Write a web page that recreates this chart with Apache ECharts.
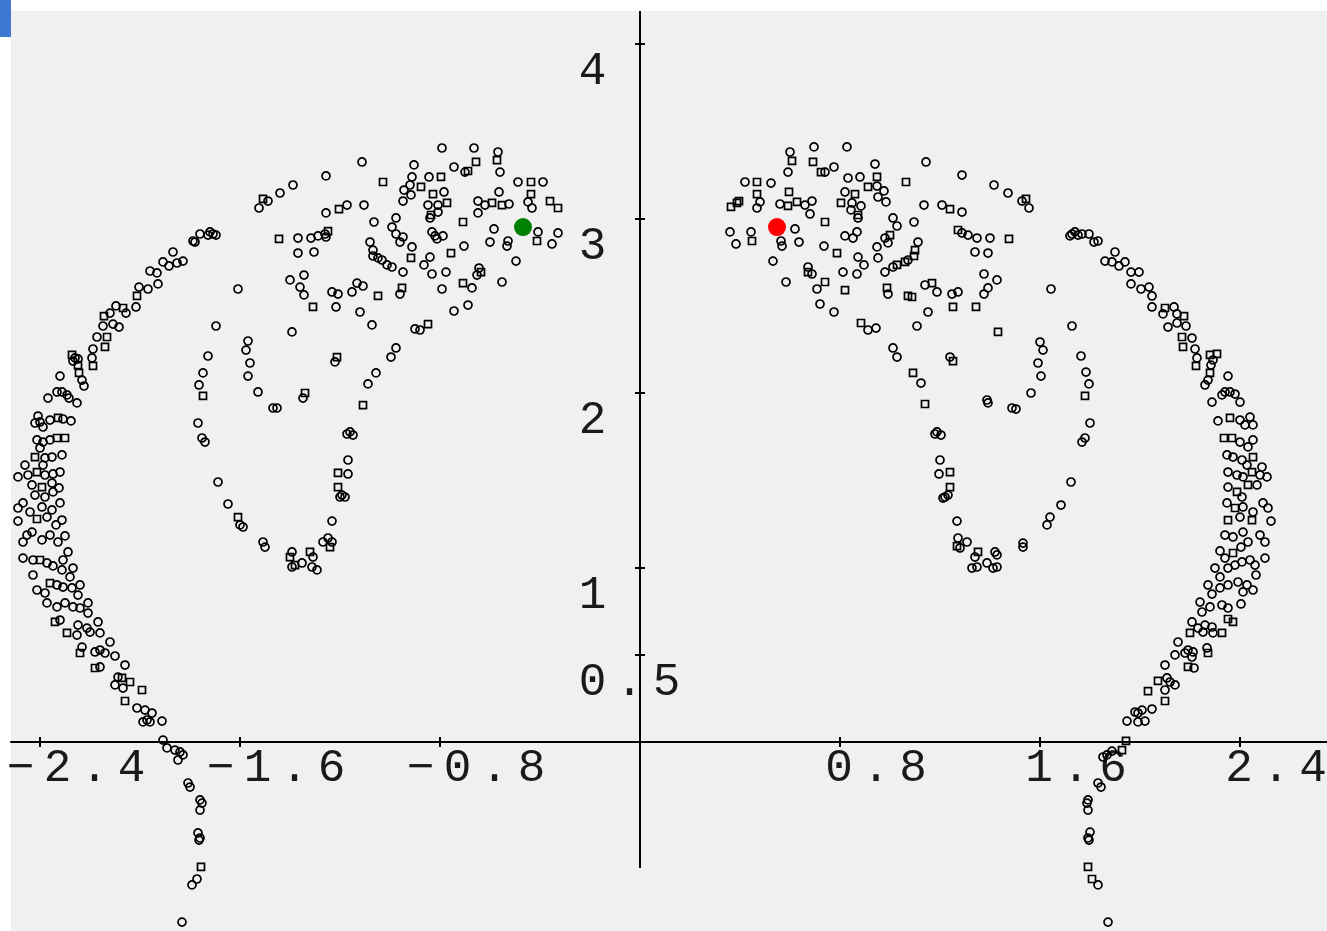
<!DOCTYPE html>
<html><head><meta charset="utf-8">
<script src="https://cdn.jsdelivr.net/npm/echarts@6/dist/echarts.min.js"></script>
<style>html,body{margin:0;padding:0;background:#fff}#c{width:1327px;height:931px}</style>
</head><body><div id="c"></div>
<script>
const xRange = [-2.516, 2.748];
const yRange = [-1.083, 4.189];
const yAxisLineBottom = -0.722;
const xTickValues = [-2.4, -1.6, -0.8, 0.8, 1.6, 2.4];
const yTickValues = [0.5, 1, 2, 3, 4];

const greenPoint = [-0.468, 2.951];
const redPoint = [0.548, 2.951];

const leftCircles = [
[-1.44,3.146],[-1.488,3.100],[-1.524,3.060],[-1.608,2.596],[-1.696,2.384],[-1.568,2.298],[-1.576,2.246],[-1.56,2.172],[-1.568,2.097],[-1.528,2.006],[-1.728,2.212],[-1.748,2.115],[-1.764,2.046],
[-1.708,2.911],[-1.72,2.923],[-1.696,2.905],[-1.728,2.905],[-1.76,2.911],[-1.788,2.871],[-1.78,2.865],[-1.868,2.808],[-1.828,2.756],[-1.852,2.745],[-1.884,2.728],[-1.908,2.751],[-1.96,2.699],[-1.932,2.688],[-1.928,2.625],[-1.968,2.596],[-2.004,2.607],[-2.016,2.493],[-2.096,2.499],[-2.056,2.458],[-2.12,2.458],[-2.148,2.384],[-2.108,2.395],[-2.084,2.378],[-2.172,2.321],[-2.188,2.252],[-2.192,2.201],[-2.26,2.201],[-2.248,2.195],[-2.268,2.183],[-2.232,2.074],[-2.224,2.040],[-2.32,2.097],[-2.332,2.006],[-2.312,2.006],[-2.292,1.989],[-2.284,1.971],[-2.368,1.971],
[-2.252,1.943],[-2.408,1.868],[-2.42,1.828],[-2.388,1.805],[-2.4,1.834],[-2.36,1.845],[-2.308,1.851],[-2.276,1.840],[-2.412,1.731],[-2.388,1.719],[-2.36,1.731],[-2.40,1.685],[-2.38,1.628],[-2.352,1.633],[-2.312,1.645],[-2.388,1.587],[-2.46,1.587],[-2.488,1.519],[-2.448,1.530],[-2.38,1.530],[-2.348,1.536],[-2.32,1.547],[-2.432,1.473],[-2.352,1.484],[-2.324,1.456],[-2.42,1.415],[-2.38,1.404],[-2.348,1.433],[-2.468,1.370],[-2.488,1.341],[-2.44,1.318],[-2.392,1.347],[-2.352,1.330],[-2.32,1.370],[-2.488,1.266],[-2.372,1.289],[-2.336,1.244],[-2.312,1.272],[-2.452,1.186],[-2.432,1.203],[-2.468,1.146],[-2.392,1.158],[-2.36,1.186],[-2.328,1.146],[-2.30,1.181],[-2.468,1.054],[-2.428,1.043],[-2.372,1.026],[-2.348,1.009],[-2.308,1.043],[-2.288,1.089],[-2.428,0.957],[-2.312,0.986],[-2.268,0.997],[-2.28,0.946],[-2.412,0.871],[-2.38,0.854],[-2.332,0.900],[-2.308,0.888],[-2.272,0.883],[-2.24,0.900],[-2.248,0.842],[-2.372,0.797],[-2.332,0.774],[-2.30,0.797],[-2.268,0.774],[-2.24,0.768],[-2.208,0.797],[-2.208,0.739],[-2.32,0.699],[-2.248,0.670],[-2.212,0.653],[-2.168,0.688],[-2.252,0.613],[-2.20,0.630],[-2.16,0.625],[-2.232,0.544],[-2.18,0.516],[-2.16,0.527],[-2.12,0.573],[-2.14,0.510],[-2.10,0.493],
[-1.468,1.914],[-1.452,1.914],[-1.768,1.828],[-1.752,1.742],[-1.74,1.719],[-1.688,1.490],[-1.648,1.364],[-1.60,1.244],[-1.588,1.232],[-1.508,1.146],[-1.50,1.117],
[-2.06,0.441],[-2.16,0.430],[-2.088,0.372],[-2.10,0.327],[-2.068,0.309],[-2.012,0.195],[-1.98,0.183],[-1.952,0.166],[-1.972,0.126],[-1.988,0.115],[-1.96,0.115],[-1.912,0.120],[-1.908,0.011],[-1.892,-0.034],[-1.86,-0.046],[-1.84,-0.057],[-1.828,-0.074],[-1.848,-0.103],[-1.808,-0.235],[-1.80,-0.258],[-1.76,-0.332],[-1.752,-0.350],[-1.76,-0.390],[-1.768,-0.521],[-1.76,-0.550],[-1.764,-0.562],[-1.772,-0.785],[-1.792,-0.819],[-1.832,-1.032],
[-1.348,1.971],[-1.16,1.777],[-1.148,1.759],[-1.172,1.765],[-1.168,1.616],[-1.168,1.536],[-1.192,1.415],[-1.18,1.404],[-1.20,1.404],[-1.232,1.266],[-1.248,1.169],[-1.232,1.146],[-1.268,1.146],[-1.392,1.089],[-1.308,1.060],[-1.392,1.003],[-1.352,1.026],[-1.312,1.003],[-1.292,0.986],
[-0.792,3.404],[-0.664,3.404],[-1.112,3.324],[-0.904,3.307],[-0.568,3.381],[-0.744,3.295],[-0.70,3.266],[-0.56,3.266],[-1.256,3.244],[-0.912,3.238],[-0.844,3.238],[-0.92,3.192],[-0.488,3.209],[-0.388,3.209],[-1.388,3.192],[-0.944,3.163],[-0.916,3.135],[-0.948,3.100],[-0.784,3.152],[-0.564,3.152],[-0.848,3.077],[-0.808,3.077],[-0.648,3.100],[-0.62,3.077],[-0.524,3.083],[-0.448,3.095],[-0.432,3.060],[-1.104,3.077],[-1.172,3.077],[-1.256,3.032],[-0.648,3.032],[-0.84,3.003],[-0.808,3.037],[-1.064,2.980],[-0.976,3.003],[-0.992,2.951],[-0.584,2.940],[-0.408,2.923],[-0.328,2.917],[-0.352,2.854],[-0.528,2.871],[-0.532,2.842],[-0.60,2.865],[-1.26,2.911],[-1.288,2.900],[-1.316,2.888],[-1.368,2.888],[-1.256,2.894],[-0.832,2.923],[-0.82,2.900],[-0.788,2.900],[-0.812,2.883],[-0.976,2.911],[-0.948,2.894],[-0.96,2.865],[-0.912,2.837],[-0.704,2.842],[-1.08,2.865],[-1.068,2.819],[-1.068,2.785],[-1.032,2.762],[-1.048,2.774],[-1.012,2.734],[-0.992,2.722],[-0.948,2.693],[-0.84,2.779],[-0.864,2.734],[-0.832,2.682],[-0.776,2.693],[-0.644,2.716],[-0.652,2.676],[-0.672,2.602],[-0.792,2.596],[-0.552,2.636],[-0.496,2.756],[-1.368,2.802],[-1.304,2.808],[-1.344,2.676],[-1.40,2.648],[-1.36,2.607],[-1.344,2.562],[-1.232,2.579],[-1.208,2.567],[-1.152,2.579],[-1.132,2.630],[-1.108,2.613],[-0.96,2.567],[-1.216,2.493],[-1.12,2.464],[-1.072,2.390],[-1.392,2.350],[-0.90,2.367],[-0.88,2.361],[-0.744,2.470],[-0.688,2.504],[-0.976,2.258],[-0.996,2.206],[-1.22,2.178],[-1.056,2.115],[-1.088,2.052]
];

const leftSquares = [
[-1.508,3.112],[-1.444,2.883],[-1.748,1.983],[-2.012,2.556],[-2.068,2.487],[-2.144,2.441],[-2.132,2.321],[-2.14,2.264],[-2.188,2.155],[-2.272,2.218],[-2.248,2.160],[-2.244,2.115],
[-2.328,1.857],[-2.332,1.742],[-2.30,1.742],[-2.42,1.633],[-2.412,1.547],[-2.392,1.461],[-2.412,1.278],[-2.40,1.043],[-2.36,0.911],[-2.34,0.688],[-2.292,0.625],[-2.24,0.510],[-1.608,1.289],
[-2.18,0.424],[-2.072,0.367],[-2.04,0.344],[-1.992,0.298],[-2.06,0.235],[-1.756,-0.716],
[-1.34,2.000],[-1.108,1.931],[-1.208,1.542],[-1.208,1.461],[-1.24,1.117],[-1.32,1.089],[-1.40,1.060],[-1.38,1.014],
[-0.572,3.335],[-0.656,3.324],[-0.688,3.272],[-0.796,3.238],[-1.028,3.209],[-0.876,3.181],[-0.436,3.209],[-0.828,3.140],[-0.436,3.140],[-0.772,3.089],[-0.592,3.089],[-0.552,3.077],[-0.36,3.100],[-0.328,3.060],[-1.204,3.054],[-0.836,3.020],[-0.708,2.980],[-0.412,2.871],[-1.248,2.928],[-0.916,2.774],[-0.756,2.802],[-0.636,2.693],[-0.708,2.630],[-1.048,2.556],[-0.952,2.602],[-1.308,2.493],[-0.848,2.395],[-1.212,2.206]
];

const rightCircles = [
[0.60,3.381],[0.696,3.410],[0.828,3.410],[0.74,3.266],[0.776,3.295],[0.592,3.266],[0.42,3.209],[0.524,3.203],[0.48,3.095],[0.468,3.060],[0.56,3.083],[0.66,3.077],[0.688,3.100],[0.68,3.026],[0.62,2.940],[0.36,2.923],[0.444,2.923],[0.384,2.854],[0.564,2.871],[0.568,2.842],[0.636,2.865],[0.532,2.756],[0.584,2.636],[0.672,2.722],[0.688,2.682],[0.736,2.842],[0.708,2.596],[0.72,2.510],[0.776,2.464],[0.912,2.361],[0.944,2.372],[0.812,2.693],[0.868,2.682],[0.896,2.734],[0.872,2.779],[0.82,2.900],[0.852,2.888],[0.868,2.923],[0.94,3.312],[0.832,3.232],[0.88,3.238],[0.948,3.186],[0.976,3.158],[0.952,3.123],[0.984,3.095],[0.82,3.152],[0.848,3.089],[0.884,3.072],[0.844,3.049],[0.872,3.003],[1.144,3.324],[1.288,3.249],[1.416,3.192],[1.136,3.077],[1.208,3.077],[1.288,3.037],[1.012,3.003],[1.028,2.957],[1.096,2.980],[0.98,2.888],[0.992,2.860],[0.948,2.837],[0.952,2.774],[1.112,2.865],[1.072,2.762],[1.012,2.722],[0.98,2.693],[1.288,2.917],[1.312,2.905],[1.348,2.888],[1.40,2.888],[1.34,2.808],[1.392,2.802],[1.376,2.682],[1.428,2.648],[1.14,2.619],[1.188,2.579],[1.248,2.567],[1.272,2.579],[0.992,2.567],[1.152,2.464],[1.392,2.602],[1.376,2.567],[1.108,2.384],[1.012,2.258],[1.028,2.206],[1.24,2.206],[1.124,2.057],
[1.472,3.146],[1.528,3.100],[1.556,3.060],[1.644,2.596],[1.728,2.384],[1.60,2.292],[1.612,2.246],[1.592,2.172],[1.604,2.097],[1.564,2.000],[1.764,2.212],[1.784,2.120],[1.796,2.052],
[1.728,2.911],[1.74,2.923],[1.752,2.905],[1.72,2.900],[1.768,2.911],[1.796,2.911],[1.816,2.865],[1.832,2.871],[1.90,2.808],[1.86,2.756],[1.888,2.751],[1.916,2.728],[1.94,2.751],[1.964,2.693],[1.996,2.693],[1.964,2.625],[2.004,2.596],[2.036,2.607],[2.048,2.556],[2.048,2.493],[2.136,2.493],[2.092,2.453],[2.148,2.453],[2.112,2.378],[2.148,2.401],[2.184,2.384],[2.208,2.315],[2.22,2.252],[2.228,2.201],[2.292,2.189],[2.284,2.160],[2.272,2.074],[2.26,2.046],[2.352,2.097],[2.34,2.006],[2.36,2.006],[2.328,1.989],[2.38,1.994],
[1.504,1.908],[1.488,1.914],[1.80,1.828],[1.78,1.742],[1.768,1.719],[1.724,1.490],[1.684,1.358],[1.64,1.289],[1.628,1.244],[1.532,1.140],[1.532,1.117],[1.428,1.072],[1.428,1.003],
[2.288,1.948],[2.40,1.948],[2.312,1.840],[2.40,1.845],[2.44,1.862],[2.42,1.817],[2.452,1.817],[2.40,1.719],[2.432,1.691],[2.452,1.731],[2.348,1.645],[2.372,1.633],[2.408,1.616],[2.428,1.587],[2.488,1.576],[2.508,1.519],[2.48,1.530],[2.412,1.519],[2.388,1.530],[2.352,1.547],[2.352,1.461],[2.468,1.473],[2.408,1.404],[2.348,1.370],[2.412,1.347],[2.492,1.370],[2.512,1.341],[2.452,1.318],[2.40,1.289],[2.524,1.266],[2.34,1.186],[2.372,1.175],[2.412,1.203],[2.432,1.146],[2.48,1.186],[2.50,1.146],[2.404,1.117],[2.32,1.095],[2.34,1.054],[2.408,1.032],[2.44,1.043],[2.46,1.014],[2.50,1.054],[2.464,0.957],[2.30,0.997],[2.32,0.946],[2.352,0.997],[2.38,1.014],[2.392,0.917],[2.428,0.900],[2.452,0.871],[2.412,0.860],[2.272,0.900],[2.288,0.848],[2.32,0.883],[2.352,0.900],[2.24,0.802],[2.248,0.745],[2.28,0.774],[2.328,0.785],[2.352,0.768],[2.404,0.791],[2.208,0.688],[2.232,0.653],[2.26,0.670],[2.288,0.659],[2.292,0.625],[2.252,0.630],[2.152,0.573],[2.192,0.527],[2.212,0.516],[2.14,0.499],[2.18,0.510],[2.268,0.539],
[2.208,0.487],[2.10,0.441],[2.216,0.424],[2.108,0.367],[2.12,0.344],[2.14,0.327],[2.10,0.298],[2.048,0.189],[2.008,0.183],[1.992,0.166],[1.98,0.172],[2.02,0.120],[1.992,0.115],[1.948,0.120],[1.888,-0.052],[1.868,-0.074],[1.852,-0.086],[1.832,-0.235],[1.844,-0.258],[1.792,-0.332],[1.788,-0.350],[1.792,-0.390],[1.80,-0.516],[1.792,-0.550],[1.796,-0.562],[1.832,-0.819],[1.872,-1.032],
[1.388,1.960],[1.392,1.943],[1.188,1.777],[1.204,1.759],[1.18,1.765],[1.20,1.616],[1.196,1.536],[1.22,1.404],[1.232,1.415],[1.212,1.398],[1.268,1.266],[1.272,1.169],[1.308,1.146],[1.28,1.112],[1.34,1.060],[1.42,1.089],[1.328,0.997],[1.348,1.003],[1.388,1.026],[1.412,0.997]
];

const rightSquares = [
[0.608,3.330],[0.692,3.324],[0.724,3.266],[0.468,3.209],[0.468,3.140],[0.596,3.152],[0.396,3.100],[0.388,3.089],[0.364,3.066],[0.592,3.072],[0.628,3.095],[0.448,2.871],[0.74,2.980],[0.672,2.693],[0.788,2.802],[0.74,2.636],[0.884,2.401],[0.82,2.590],[0.948,3.238],[0.912,3.181],[0.86,3.140],[0.804,3.089],[0.872,3.020],[1.064,3.209],[1.24,3.054],[1.00,2.905],[1.10,2.819],[1.096,2.785],[1.06,2.751],[1.028,2.734],[1.272,2.934],[1.168,2.630],[0.988,2.602],[1.072,2.556],[1.088,2.550],[1.252,2.493],[1.344,2.493],[1.252,2.183],[1.092,2.115],[1.432,2.350],
[1.544,3.112],[1.476,2.883],[1.78,1.983],[2.10,2.487],[2.176,2.441],[2.168,2.321],[2.172,2.264],[2.224,2.155],[2.28,2.218],[2.308,2.224],[2.28,2.115],
[2.36,1.857],[2.336,1.742],[2.368,1.742],[2.452,1.633],[2.448,1.547],[2.388,1.433],[2.432,1.473],[2.38,1.341],[2.352,1.272],[2.448,1.272],[2.372,1.083],[2.352,0.705],[2.372,0.688],[2.20,0.625],[2.328,0.625],[2.272,0.510],
[2.192,0.430],[2.072,0.350],[2.032,0.292],[2.10,0.235],[1.944,0.006],[1.928,-0.046],[1.792,-0.716],[1.808,-0.785],
[1.14,1.937],[1.24,1.547],[1.24,1.461],[1.268,1.123],[1.352,1.089]
];

const FONT = 'Liberation Mono';
const FS = 46;
const CELL = 37;
function boxed(s) { return s.split('').map(ch => '{c|' + ch + '}').join(''); }
function fmtX(v) { return (v < 0 ? '\u2212' : '') + Math.abs(v).toFixed(1); }
function fmtY(v) { return Number.isInteger(v) ? String(v) : v.toFixed(1); }
const rich = { c: { width: CELL, align: 'center', fontFamily: FONT, fontSize: FS, color: '#1a1a1a' } };

const hollow = { color: 'rgba(0,0,0,0)', borderColor: '#000', borderWidth: 1.7, opacity: 1 };

// pixel geometry of the plot (grid edges) used to place the axes at the origin
const gridLeft = 11, gridTop = 11, W = 1327, H = 931;
const plotW = W - gridLeft, plotH = H - gridTop;
const yAxisOffset = -plotW * (0 - xRange[0]) / (xRange[1] - xRange[0]);
const xAxisOffset = -plotH * (0 - yRange[0]) / (yRange[1] - yRange[0]);
const tickLine = { color: '#000', width: 2 };

const chart = echarts.init(document.getElementById('c'), null, { renderer: 'canvas' });
chart.setOption({
  animation: false,
  backgroundColor: '#ffffff',
  graphic: [{ type: 'rect', left: 0, top: 0, shape: { width: 11, height: 37 }, style: { fill: '#3c78d4' }, z: 10 }],
  grid: { left: gridLeft, top: gridTop, right: 0, bottom: 0, show: true, backgroundColor: '#f0f0f0', borderWidth: 0, containLabel: false, outerBoundsMode: 'none' },
  xAxis: [{
    type: 'value', min: xRange[0], max: xRange[1], position: 'bottom', offset: xAxisOffset,
    splitLine: { show: false },
    axisLine: { onZero: false, lineStyle: { color: '#000', width: 2 } },
    axisTick: { show: true, length: 5, customValues: xTickValues, lineStyle: tickLine },
    axisLabel: {
      customValues: xTickValues, margin: 4, padding: [0, 0, 0, 72], hideOverlap: false,
      formatter: v => boxed(fmtX(v)), rich: rich, fontFamily: FONT, fontSize: FS, color: '#1a1a1a'
    }
  }, {
    type: 'value', min: xRange[0], max: xRange[1], position: 'bottom', offset: xAxisOffset,
    splitLine: { show: false }, axisLine: { show: false, onZero: false },
    axisTick: { show: true, inside: true, length: 5, customValues: xTickValues, lineStyle: tickLine },
    axisLabel: { show: false }
  }],
  yAxis: [{
    type: 'value', min: yRange[0], max: yRange[1], position: 'left', offset: yAxisOffset,
    splitLine: { show: false },
    axisLine: { show: false, onZero: false },
    axisTick: { show: true, length: 5, customValues: yTickValues, lineStyle: tickLine },
    axisLabel: {
      customValues: yTickValues, margin: 66, align: 'left', padding: [56, 0, 0, 0], hideOverlap: false,
      formatter: v => boxed(fmtY(v)), rich: rich, fontFamily: FONT, fontSize: FS, color: '#1a1a1a'
    }
  }, {
    type: 'value', min: yRange[0], max: yRange[1], position: 'left', offset: yAxisOffset,
    splitLine: { show: false }, axisLine: { show: false, onZero: false },
    axisTick: { show: true, inside: true, length: 5, customValues: yTickValues, lineStyle: tickLine },
    axisLabel: { show: false }
  }],
  series: [
    { type: 'scatter', name: 'leftCircles', data: leftCircles, symbol: 'circle', symbolSize: 8, itemStyle: hollow, silent: true,
      markLine: { silent: true, symbol: ['none', 'none'], label: { show: false }, animation: false,
        lineStyle: { color: '#000', width: 2, type: 'solid', opacity: 1 },
        data: [[{ coord: [0, yRange[1]] }, { coord: [0, yAxisLineBottom] }]] } },
    { type: 'scatter', name: 'leftSquares', data: leftSquares, symbol: 'rect', symbolSize: 7, itemStyle: hollow, silent: true },
    { type: 'scatter', name: 'rightCircles', data: rightCircles, symbol: 'circle', symbolSize: 8, itemStyle: hollow, silent: true },
    { type: 'scatter', name: 'rightSquares', data: rightSquares, symbol: 'rect', symbolSize: 7, itemStyle: hollow, silent: true },
    { type: 'scatter', name: 'green', data: [greenPoint], symbol: 'circle', symbolSize: 18, itemStyle: { color: '#008000', opacity: 1 }, z: 5, silent: true },
    { type: 'scatter', name: 'red', data: [redPoint], symbol: 'circle', symbolSize: 18, itemStyle: { color: '#ff0000', opacity: 1 }, z: 5, silent: true }
  ]
});
</script></body></html>
